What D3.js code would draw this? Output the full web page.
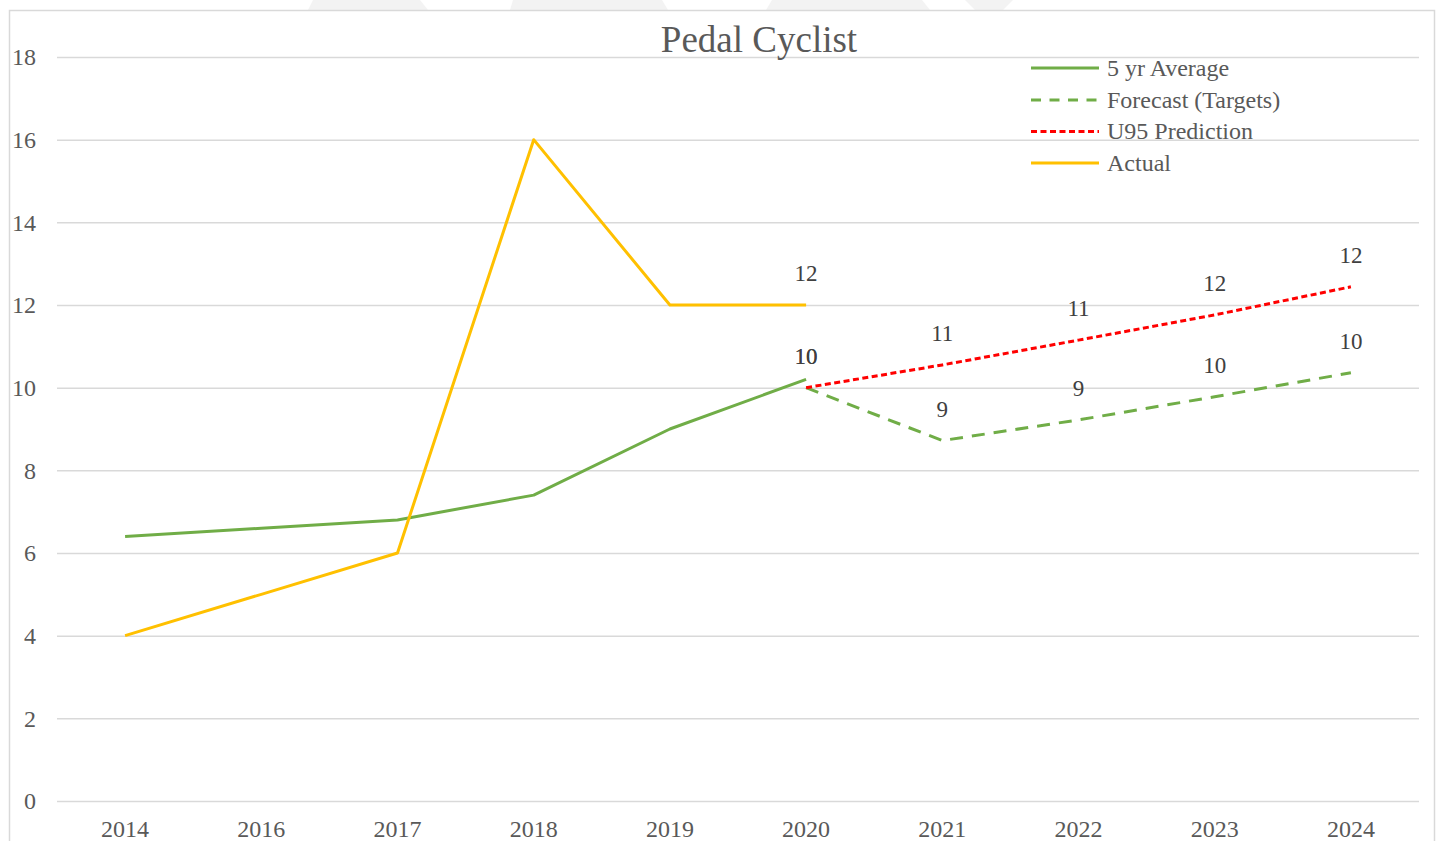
<!DOCTYPE html>
<html>
<head>
<meta charset="utf-8">
<script src="https://cdn.jsdelivr.net/npm/d3@7"></script>
<style>
  html, body { margin: 0; padding: 0; background: #fff; }
  svg { display: block; font-family: "Liberation Serif", "Times New Roman", serif; }
</style>
</head>
<body>
<svg id="chart" width="1438" height="841"></svg>
<script>
// ---- data ----
const years = ["2014", "2016", "2017", "2018", "2019", "2020", "2021", "2022", "2023", "2024"];
const avg5yr = [6.4, 6.6, 6.8, 7.4, 9.0, 10.2, null, null, null, null];
const forecast = [null, null, null, null, null, 10.0, 8.72, 9.22, 9.78, 10.36];
const u95 = [null, null, null, null, null, 10.0, 10.55, 11.15, 11.76, 12.44];
const actual = [4, 5, 6, 16, 12, 12, null, null, null, null];
const yTicks = [0, 2, 4, 6, 8, 10, 12, 14, 16, 18];
const title = "Pedal Cyclist";
const seriesNames = ["5 yr Average", "Forecast (Targets)", "U95 Prediction", "Actual"];

const svg = d3.select("#chart");

// faint background shapes at the top
const bgShapes = [
  [[313,0],[420,0],[428,10],[308,10]],
  [[513,0],[662,0],[668,10],[510,10]],
  [[772,0],[922,0],[930,10],[766,10]],
  [[965,0],[1013,0],[1003,10],[975,10]]
];
svg.selectAll("polygon.bg").data(bgShapes).join("polygon")
  .attr("class", "bg")
  .attr("points", d => d.map(p => p.join(",")).join(" "))
  .attr("fill", "#f3f3f3");

// chart border
svg.append("rect")
  .attr("x", 9.5).attr("y", 10.5).attr("width", 1425).attr("height", 900)
  .attr("fill", "#fff").attr("stroke", "#d9d9d9").attr("stroke-width", 1.5);

const x = d3.scaleBand().domain(years).range([57, 1419]).padding(0);
const y = d3.scaleLinear().domain([0, 18]).range([801, 57]);
const cx = yr => x(yr) + x.bandwidth() / 2;

// gridlines
const gGrid = svg.append("g")
  .attr("transform", "translate(57,0)")
  .call(d3.axisLeft(y).tickValues(yTicks).tickSize(-(1419 - 57)).tickFormat(""));
gGrid.select(".domain").remove();
gGrid.selectAll(".tick line").attr("stroke", "#d9d9d9").attr("stroke-width", 1.5);

// y tick labels
const gY = svg.append("g")
  .attr("transform", "translate(36,0)")
  .call(d3.axisLeft(y).tickValues(yTicks).tickSize(0).tickPadding(0).tickFormat(d3.format("d")));
gY.select(".domain").remove();
gY.selectAll("text")
  .attr("font-family", "Liberation Serif, serif")
  .attr("font-size", 24).attr("fill", "#595959");

// x tick labels
const gX = svg.append("g")
  .attr("transform", "translate(0,801)")
  .call(d3.axisBottom(x).tickSize(0).tickPadding(0));
gX.select(".domain").remove();
gX.selectAll("text")
  .attr("y", 28).attr("dy", "0.35em")
  .attr("font-family", "Liberation Serif, serif")
  .attr("font-size", 24).attr("fill", "#595959");

// lines
const line = d3.line()
  .defined(d => d.v != null)
  .x(d => cx(d.yr))
  .y(d => y(d.v));
const toPts = arr => years.map((yr, i) => ({ yr, v: arr[i] }));

const series = [
  { name: seriesNames[0], data: avg5yr, color: "#70ad47", dash: null, width: 3 },
  { name: seriesNames[1], data: forecast, color: "#70ad47", dash: "13,9", width: 3 },
  { name: seriesNames[2], data: u95, color: "#ff0000", dash: "6,3.5", width: 3 },
  { name: seriesNames[3], data: actual, color: "#ffc000", dash: null, width: 3 }
];

svg.append("g").selectAll("path").data(series).join("path")
  .attr("d", s => line(toPts(s.data)))
  .attr("fill", "none")
  .attr("stroke", s => s.color)
  .attr("stroke-width", s => s.width)
  .attr("stroke-dasharray", s => s.dash)
  .attr("stroke-linejoin", "round");

// data labels
const labelPts = [];
toPts(forecast).filter(d => d.v != null).forEach(d => labelPts.push(d));
toPts(u95).filter(d => d.v != null).forEach(d => labelPts.push(d));
labelPts.push({ yr: "2020", v: actual[5] });

svg.append("g").selectAll("text").data(labelPts).join("text")
  .attr("x", d => cx(d.yr))
  .attr("y", d => y(d.v) - 32)
  .attr("dy", "0.35em")
  .attr("text-anchor", "middle")
  .attr("font-size", 23)
  .attr("fill", "#404040")
  .text(d => d3.format(".0f")(d.v));

// title
svg.append("text")
  .attr("x", 759).attr("y", 52)
  .attr("text-anchor", "middle")
  .attr("font-size", 37)
  .attr("fill", "#595959")
  .text(title);

// legend
const legRows = [68, 100, 131.5, 163];
const leg = svg.append("g").selectAll("g").data(series).join("g")
  .attr("transform", (d, i) => `translate(0,${legRows[i]})`);
leg.append("line")
  .attr("x1", 1031).attr("x2", 1099).attr("y1", 0).attr("y2", 0)
  .attr("stroke", d => d.color)
  .attr("stroke-width", 3)
  .attr("stroke-dasharray", d => d.dash ? (d.color === "#ff0000" ? "6,3.5" : "10,8.5") : null);
leg.append("text")
  .attr("x", 1107).attr("y", 0).attr("dy", "0.33em")
  .attr("font-size", 24)
  .attr("fill", "#595959")
  .text(d => d.name);
</script>
</body>
</html>
